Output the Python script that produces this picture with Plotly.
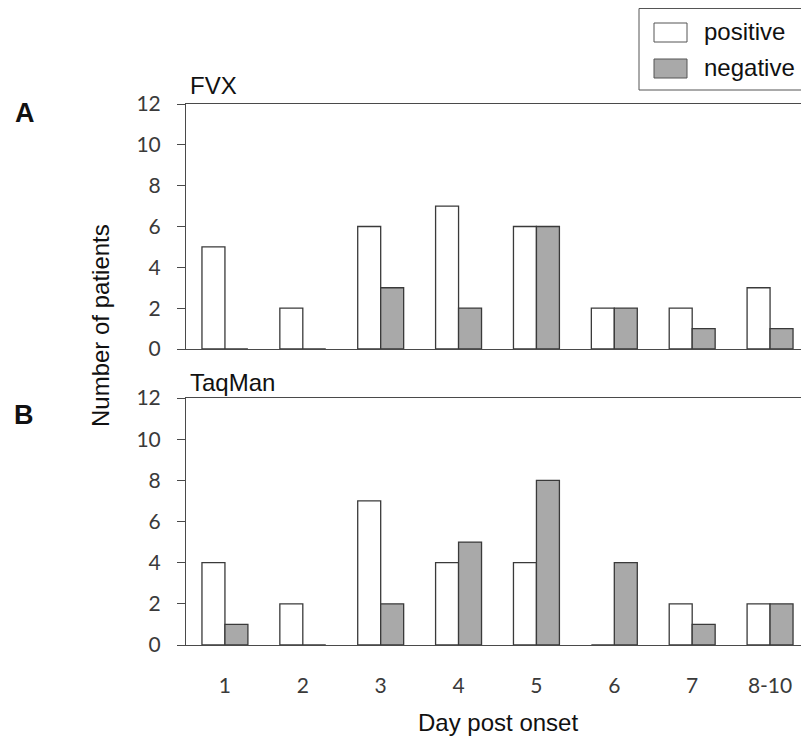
import plotly.graph_objects as go

# ---- data ----
days = ["1", "2", "3", "4", "5", "6", "7", "8-10"]
fvx_positive = [5, 2, 6, 7, 6, 2, 2, 3]
fvx_negative = [0, 0, 3, 2, 6, 2, 1, 1]
taqman_positive = [4, 2, 7, 4, 4, 0, 2, 2]
taqman_negative = [1, 0, 2, 5, 8, 4, 1, 2]
y_ticks = [0, 2, 4, 6, 8, 10, 12]
series_names = ["positive", "negative"]
panel_titles = ["FVX", "TaqMan"]
panel_letters = ["A", "B"]

# ---- layout constants (page pixels; the page body adds an 8px offset) ----
OFF = 8
PAGE_W, PAGE_H = 809, 739
W, H = PAGE_W - OFF, PAGE_H - OFF
AX_LEFT, AX_TOP, AX_BOTTOM = 186, 104, 645      # page pixel positions of plot area
L = AX_LEFT - OFF
T = AX_TOP - OFF
B = H - (AX_BOTTOM - OFF)
R = 0
PW, PH = W - L - R, H - T - B

def px(x):
    return (x - OFF - L) / PW

def py(y):
    return (H - B - (y - OFF)) / PH

POS_FILL = "#ffffff"
NEG_FILL = "#a9a9a9"
EDGE = "#3a3a3a"
AXIS = "#4a4a4a"
TICKFONT = dict(family="Lato, Carlito, Open Sans, sans-serif", size=21, color="#3a3a3a")
TEXTFONT = dict(family="Liberation Sans, Arial, sans-serif", size=24, color="#111111")

fig = go.Figure()

panels = [(fvx_positive, fvx_negative, "x", "y"),
          (taqman_positive, taqman_negative, "x2", "y2")]
for pos, neg, xa, ya in panels:
    fig.add_trace(go.Bar(x=days, y=pos, name=series_names[0], xaxis=xa, yaxis=ya,
                         marker=dict(color=POS_FILL, line=dict(color=EDGE, width=1.3)),
                         showlegend=False))
    fig.add_trace(go.Bar(x=days, y=neg, name=series_names[1], xaxis=xa, yaxis=ya,
                         marker=dict(color=NEG_FILL, line=dict(color=EDGE, width=1.3)),
                         showlegend=False))

top_dom = [py(349), 1.0]
bot_dom = [0.0, py(398)]

common_x = dict(type="category", range=[-0.5, 7.5], showline=True, linecolor=AXIS,
                linewidth=1, mirror=True, ticks="", showgrid=False, zeroline=False,
                tickfont=TICKFONT)
common_y = dict(range=[0, 12], tickvals=y_ticks, ticks="outside", ticklen=8,
                tickcolor=AXIS, tickwidth=1, showline=True, linecolor=AXIS, linewidth=1,
                showgrid=False, zeroline=False, tickfont=TICKFONT, ticklabelstandoff=12)

fig.update_layout(
    width=W, height=H,
    margin=dict(l=L, r=R, t=T, b=B),
    paper_bgcolor="white", plot_bgcolor="white",
    barmode="group", bargap=0.41, bargroupgap=0,
    showlegend=False,
    xaxis=dict(domain=[0, 1], anchor="y", showticklabels=False, **common_x),
    yaxis=dict(domain=top_dom, anchor="x", **common_y),
    xaxis2=dict(domain=[0, 1], anchor="y2", showticklabels=True, ticklabelstandoff=22,
                **common_x),
    yaxis2=dict(domain=bot_dom, anchor="x2", **common_y),
)

ann = []
# panel titles
ann.append(dict(text=panel_titles[0], x=px(188), y=py(85), xref="paper", yref="paper",
                xanchor="left", yanchor="middle", showarrow=False, font=TEXTFONT))
ann.append(dict(text=panel_titles[1], x=px(188), y=py(382), xref="paper", yref="paper",
                xanchor="left", yanchor="middle", showarrow=False, font=TEXTFONT))
# panel letters
letter_font = dict(family="Liberation Sans, Arial, sans-serif", size=27, color="#111111")
ann.append(dict(text="<b>" + panel_letters[0] + "</b>", x=px(25), y=py(113), xref="paper",
                yref="paper", xanchor="center", yanchor="middle", showarrow=False,
                font=letter_font))
ann.append(dict(text="<b>" + panel_letters[1] + "</b>", x=px(24), y=py(415), xref="paper",
                yref="paper", xanchor="center", yanchor="middle", showarrow=False,
                font=letter_font))
# axis titles
ann.append(dict(text="Number of patients", x=px(100), y=py(326), xref="paper", yref="paper",
                xanchor="center", yanchor="middle", textangle=-90, showarrow=False,
                font=TEXTFONT))
ann.append(dict(text="Day post onset", x=px(497.5), y=py(722), xref="paper", yref="paper",
                xanchor="center", yanchor="middle", showarrow=False, font=TEXTFONT))

# legend (drawn manually to match the boxed legend with large swatches)
shapes = []
shapes.append(dict(type="rect", xref="paper", yref="paper", x0=px(639), x1=px(812),
                   y0=py(90), y1=py(8.5), line=dict(color="#555555", width=1),
                   fillcolor="white", layer="above"))
legend_rows = [(series_names[0], POS_FILL, 23, 42), (series_names[1], NEG_FILL, 59, 78)]
for name, fill, yt, yb in legend_rows:
    shapes.append(dict(type="rect", xref="paper", yref="paper", x0=px(654), x1=px(687),
                       y0=py(yb), y1=py(yt), line=dict(color="#555555", width=1),
                       fillcolor=fill, layer="above"))
    ann.append(dict(text=name, x=px(702), y=py((yt + yb) / 2 - 1), xref="paper",
                    yref="paper", xanchor="left", yanchor="middle", showarrow=False,
                    font=TEXTFONT))

fig.update_layout(annotations=ann, shapes=shapes)
fig.write_html("out.html")
